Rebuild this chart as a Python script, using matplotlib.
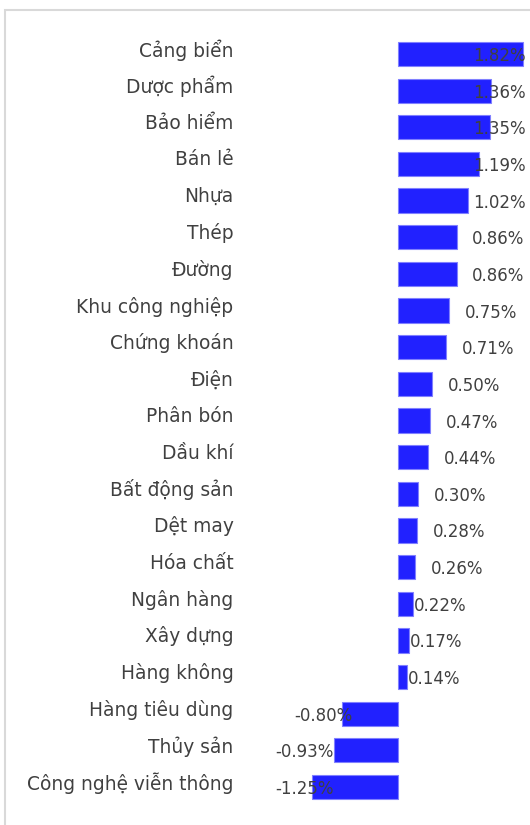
import matplotlib
matplotlib.use("Agg")
import matplotlib.pyplot as plt
import matplotlib.transforms as mtransforms
from matplotlib.patches import Rectangle

categories = ["Cảng biển", "Dược phẩm", "Bảo hiểm", "Bán lẻ", "Nhựa", "Thép", "Đường",
              "Khu công nghiệp", "Chứng khoán", "Điện", "Phân bón", "Dầu khí",
              "Bất động sản", "Dệt may", "Hóa chất", "Ngân hàng", "Xây dựng",
              "Hàng không", "Hàng tiêu dùng", "Thủy sản", "Công nghệ viễn thông"]
values = [1.82, 1.36, 1.35, 1.19, 1.02, 0.86, 0.86, 0.75, 0.71, 0.50, 0.47, 0.44,
          0.30, 0.28, 0.26, 0.22, 0.17, 0.14, -0.80, -0.93, -1.25]
value_labels = [f"{v:.2f}%" for v in values]

W, H = 530, 825
fig = plt.figure(figsize=(W / 100, H / 100), dpi=100)
fig.patch.set_facecolor("white")

# light frame
fig.patches.append(Rectangle((5 / W, -0.05), 1.2, 1 - 10 / H + 0.05, transform=fig.transFigure,
                             fill=False, edgecolor="#d9d9d9", linewidth=1.5))

ax_left, ax_right = 260, 525
zero_px = 397.5
top_px, bot_px = 35.65, 805.35
ax = fig.add_axes([ax_left / W, 1 - bot_px / H, (ax_right - ax_left) / W, (bot_px - top_px) / H])
scale = 68.8
ax.set_xlim(-(zero_px - ax_left) / scale, (ax_right - zero_px) / scale)
n = len(categories)
ax.set_ylim(n - 0.5, -0.5)
ax.axis("off")

ypos = list(range(n))
ax.barh(ypos, values, height=0.66, color="#2121ff", edgecolor="#8080ff", linewidth=0.8)

txt_color = "#404040"
# category labels
lab_tr = mtransforms.blended_transform_factory(fig.transFigure, ax.transData)
lab_tr = mtransforms.offset_copy(lab_tr, fig=fig, y=4, units="dots")
for y, c in zip(ypos, categories):
    ax.text(233.5 / W, y, c, transform=lab_tr, ha="right", va="center",
            fontsize=13.4, color=txt_color, family="DejaVu Sans", clip_on=False)

# value labels (Excel-like placement, clamped inside the plot area)
val_tr = mtransforms.offset_copy(ax.transData, fig=fig, y=-2, units="dots")
label_w = 53 / scale
xmax_lab = (526 - zero_px) / scale
xmin_lab = (274 - zero_px) / scale
for y, v, t in zip(ypos, values, value_labels):
    if v >= 0:
        if v <= 0.22:
            gap = 1
        elif v >= 1.0:
            gap = 7
        else:
            gap = 15.7
        x = min(v + gap / scale, xmax_lab - label_w)
        ax.text(x, y, t, transform=val_tr, ha="left", va="center", fontsize=12,
                color=txt_color, clip_on=False)
    else:
        gap = 10 if abs(v) < 0.9 else -1
        x = max(v + gap / scale, xmin_lab + 60 / scale)
        ax.text(x, y, t, transform=val_tr, ha="right", va="center", fontsize=12,
                color=txt_color, clip_on=False)

fig.savefig("out.png", dpi=100, facecolor="white")
